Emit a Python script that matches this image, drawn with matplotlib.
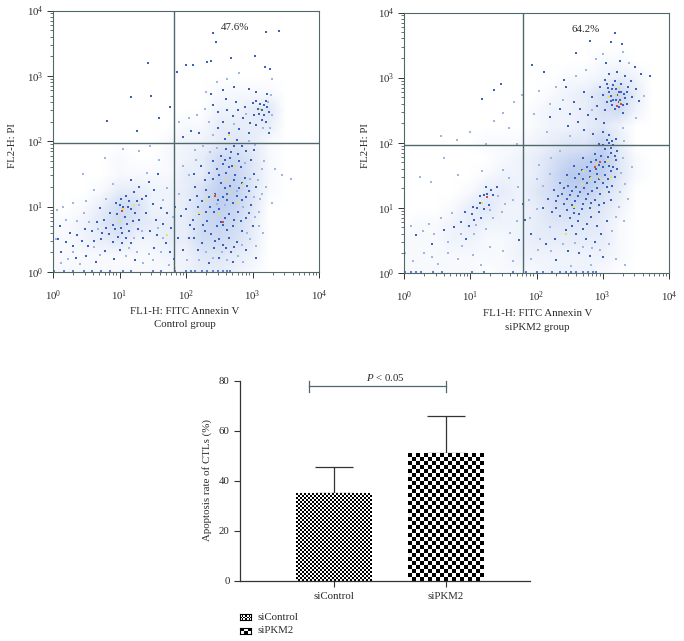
#!/usr/bin/env python3
# -*- coding: utf-8 -*-
# %% imports
import numpy as np
from matplotlib import pyplot as plt
from matplotlib.colors import LinearSegmentedColormap
from matplotlib.ticker import LogLocator, LogFormatterMathtext, NullFormatter

plt.rcParams['font.family'] = ['Liberation Serif', 'DejaVu Serif']
plt.rcParams['mathtext.fontset'] = 'custom'
plt.rcParams['mathtext.rm'] = 'Liberation Serif'
plt.rcParams['mathtext.it'] = 'Liberation Serif:italic'
plt.rcParams['mathtext.default'] = 'regular'

# %% data, flow panels: everything is in decades (log10)
grid_nodes = [0, .25, .5, .75, 1, 1.25, 1.5, 1.75, 2, 2.25, 2.5, 2.75, 3, 3.25, 3.5, 3.75, 4]

# haze of the points, one row per y node from the top (4) down to 0
ctrl_density = [
    [0, 0, 0, 0, 0, 0, 0, 0, 0, 0, 0, 0, 0, 0, 0, 0, 0],
    [0, 0, 0, 0, 0, 0, 0, 0, 0, 0, 0, 0, 0, 0, 0, 0, 0],
    [0, 0, 0, 0, 0, 0, 0, 0, 0, 0, 0, 0, 0, 0, 0, 0, 0],
    [0, 0, 0, 0, 0, 0, 0, 0, 0, 0, 0, 0, 0, 0, 0, 0, 0],
    [0, 0, 0, 0, 0, 0, 0, 0, 0, 0, 0, 0, 0, 0, 0, 0, 0],
    [0, 0, 0, 0, 0, 0, 0, 0, 0, 0, 1, 1, 1, 1, 0, 0, 0],
    [0, 0, 0, 0, 0, 0, 0, 0, 0, 0, 2, 2, 3, 4, 0, 0, 0],
    [0, 0, 0, 0, 0, 0, 0, 0, 1, 1, 3, 3, 3, 3, 0, 0, 0],
    [0, 0, 0, 0, 0, 0, 0, 1, 2, 2, 3, 4, 3, 1, 0, 0, 0],
    [0, 0, 0, 0, 1, 0, 0, 1, 2, 3, 6, 6, 4, 1, 0, 0, 0],
    [0, 0, 0, 0, 1, 1, 1, 1, 3, 3, 7, 7, 4, 1, 0, 0, 0],
    [0, 0, 0, 1, 3, 3, 2, 2, 3, 5, 8, 8, 4, 1, 0, 0, 0],
    [0, 0, 1, 3, 6, 5, 2, 2, 3, 6, 8, 7, 4, 0, 0, 0, 0],
    [1, 1, 2, 4, 6, 4, 3, 3, 3, 6, 7, 6, 3, 0, 0, 0, 0],
    [1, 1, 2, 3, 4, 2, 2, 3, 3, 6, 6, 5, 3, 0, 0, 0, 0],
    [1, 1, 1, 1, 1, 1, 1, 2, 2, 4, 4, 3, 2, 0, 0, 0, 0],
    [1, 1, 1, 1, 1, 1, 1, 1, 2, 3, 3, 2, 1, 0, 0, 0, 0],
]
pkm2_density = [
    [0, 0, 0, 0, 0, 0, 0, 0, 0, 0, 0, 0, 0, 0, 0, 0, 0],
    [0, 0, 0, 0, 0, 0, 0, 0, 0, 0, 0, 0, 0, 0, 0, 0, 0],
    [0, 0, 0, 0, 0, 0, 0, 0, 0, 0, 0, 0, 0, 0, 0, 0, 0],
    [0, 0, 0, 0, 0, 0, 0, 0, 0, 0, 0, 0, 1, 1, 0, 0, 0],
    [0, 0, 0, 0, 0, 0, 0, 0, 0, 0, 1, 1, 2, 3, 2, 0, 0],
    [0, 0, 0, 0, 0, 0, 0, 0, 0, 1, 2, 3, 5, 7, 3, 0, 0],
    [0, 0, 0, 0, 0, 0, 0, 0, 1, 2, 2, 3, 5, 6, 2, 0, 0],
    [0, 0, 0, 0, 0, 0, 0, 0, 1, 2, 2, 3, 4, 2, 0, 0, 0],
    [0, 0, 0, 0, 0, 1, 1, 1, 2, 3, 4, 4, 7, 3, 0, 0, 0],
    [0, 0, 0, 0, 0, 0, 1, 2, 3, 5, 7, 8, 9, 4, 1, 0, 0],
    [0, 0, 0, 0, 0, 1, 2, 2, 3, 6, 9, 9, 8, 4, 1, 0, 0],
    [0, 0, 0, 0, 1, 3, 3, 2, 4, 6, 8, 8, 5, 3, 0, 0, 0],
    [0, 0, 0, 1, 3, 4, 2, 2, 3, 5, 6, 5, 4, 2, 0, 0, 0],
    [0, 1, 1, 2, 3, 2, 2, 2, 3, 4, 4, 4, 3, 1, 0, 0, 0],
    [1, 1, 1, 2, 2, 1, 1, 2, 3, 3, 3, 3, 3, 1, 0, 0, 0],
    [1, 1, 1, 1, 1, 1, 1, 2, 2, 2, 2, 2, 2, 1, 0, 0, 0],
    [1, 1, 1, 1, 1, 0, 1, 1, 1, 2, 2, 2, 1, 0, 0, 0, 0],
]

ctrl_blue = [
    (2.40, 3.66), (2.45, 3.52), (3.21, 3.67), (3.40, 3.69), (3.04, 3.30), (2.68, 3.28), (2.31, 3.21), (2.37, 3.22),
    (1.43, 3.20), (1.86, 3.06), (2.00, 3.17), (2.11, 3.16), (3.26, 3.11), (3.19, 3.14), (1.17, 2.67), (1.48, 2.69),
    (0.81, 2.31), (1.59, 2.36), (1.76, 2.52), (1.26, 2.15), (2.55, 2.78), (2.38, 2.72), (2.72, 2.83), (2.95, 2.80),
    (3.06, 2.76), (3.22, 2.73), (2.41, 2.55), (2.62, 2.48), (2.75, 2.60), (2.88, 2.52), (3.00, 2.58), (3.08, 2.50),
    (3.12, 2.57), (3.17, 2.56), (3.22, 2.52), (3.10, 2.42), (3.18, 2.40), (3.25, 2.44), (3.14, 2.33), (3.20, 2.30),
    (3.05, 2.25), (2.85, 2.35), (2.70, 2.38), (2.55, 2.30), (2.48, 2.20), (2.64, 2.12), (2.80, 2.18), (2.95, 2.12),
    (3.25, 2.12), (2.20, 2.12), (2.08, 2.16), (1.95, 2.07), (2.58, 2.04), (2.72, 1.92), (2.60, 1.88), (2.52, 1.78),
    (2.66, 1.75), (2.78, 1.80), (2.90, 1.85), (2.98, 1.72), (2.55, 1.65), (2.69, 1.62), (2.82, 1.60), (2.46, 1.58),
    (2.60, 1.52), (2.74, 1.48), (2.88, 1.44), (3.02, 1.50), (2.40, 1.42), (2.52, 1.36), (2.66, 1.32), (2.80, 1.28),
    (2.94, 1.24), (2.30, 1.26), (2.44, 1.20), (2.56, 1.15), (2.62, 1.10), (2.70, 1.05), (2.84, 1.10), (2.98, 1.02),
    (2.24, 1.08), (2.36, 1.00), (2.50, 0.96), (2.64, 0.88), (2.78, 0.92), (2.90, 0.82), (2.20, 0.88), (2.32, 0.78),
    (2.52, 0.76), (2.56, 0.72), (2.70, 0.70), (2.84, 0.62), (3.00, 0.70), (2.12, 0.66), (2.28, 0.62), (2.38, 0.58),
    (2.50, 0.50), (2.64, 0.52), (2.76, 0.46), (2.60, 0.36), (2.68, 0.30), (2.42, 0.36), (2.90, 0.34), (2.24, 0.44),
    (2.50, 0.22), (2.70, 0.16), (2.34, 0.14), (3.05, 0.22), (1.84, 1.00), (1.92, 0.86), (1.78, 0.68), (1.88, 0.52),
    (1.70, 0.44), (1.96, 0.34), (1.82, 0.20), (1.66, 0.74), (1.55, 0.80), (1.46, 0.62), (1.40, 0.90), (1.30, 0.80),
    (1.10, 1.16), (1.22, 1.22), (1.06, 0.99), (1.00, 1.02), (1.13, 1.00), (1.18, 0.96), (0.96, 0.88), (1.08, 0.84),
    (1.20, 0.78), (0.90, 0.72), (1.02, 0.68), (0.93, 0.66), (1.14, 0.62), (0.84, 0.58), (0.98, 0.54), (1.10, 0.52),
    (1.04, 0.44), (0.90, 0.46), (0.72, 0.50), (0.76, 0.80), (0.70, 0.98), (0.58, 0.62), (0.44, 0.48), (0.30, 0.40),
    (0.12, 0.30), (0.26, 0.60), (0.10, 0.70), (0.50, 0.24), (0.78, 0.32), (1.18, 1.40), (1.30, 1.30), (1.40, 1.16),
    (1.52, 1.26), (1.58, 1.50), (1.44, 1.38), (2.12, 1.50), (2.22, 1.62), (2.14, 1.30), (2.06, 1.10), (2.00, 0.96),
    # second pass over the dense clouds
    (2.58, 1.72), (2.64, 1.60), (2.50, 1.48), (2.72, 1.40), (2.58, 1.28), (2.84, 1.36), (2.62, 1.20), (2.48, 1.10),
    (2.76, 1.16), (2.90, 1.14), (2.34, 1.14), (2.42, 0.92), (2.58, 0.82), (2.72, 0.80), (2.46, 0.70), (2.62, 0.64),
    (2.30, 0.92), (2.18, 1.00), (2.10, 0.80), (2.26, 0.72), (2.44, 0.48), (2.56, 0.42), (2.72, 0.38), (2.82, 0.78),
    (2.94, 0.90), (2.92, 1.32), (3.06, 1.30), (2.80, 1.70), (2.68, 1.84), (2.84, 1.92), (2.76, 2.02), (3.02, 1.86),
    (2.40, 1.70), (2.34, 1.52), (2.28, 1.40), (2.16, 1.16), (2.06, 0.72), (2.12, 0.52), (2.18, 0.34), (2.04, 0.52),
    (3.14, 2.48), (3.06, 2.62), (3.20, 2.62), (3.02, 2.40), (2.96, 2.28), (2.78, 2.48), (2.60, 2.64), (2.48, 2.44),
    (1.02, 1.12), (0.94, 1.06), (1.14, 1.08), (1.26, 1.08), (1.34, 1.12), (1.24, 0.90), (1.12, 0.74), (1.28, 0.66),
    (1.04, 0.60), (0.80, 0.68), (0.86, 0.90), (0.66, 0.76), (0.74, 0.60), (0.62, 0.48), (1.00, 0.34), (1.18, 0.44),
    (1.36, 0.52), (1.56, 0.56), (1.52, 0.36), (1.72, 0.90), (1.62, 0.98), (1.50, 1.04), (1.76, 0.30), (0.20, 0.46),
    (0.36, 0.56), (0.48, 0.66), (0.52, 0.40), (0.08, 0.50), (0.34, 0.22), (0.64, 0.16), (0.92, 0.20), (1.24, 0.18),
]
ctrl_pale = [
    (2.80, 3.05), (2.62, 2.95), (2.46, 2.90), (2.30, 2.75), (2.16, 2.40), (1.90, 2.30), (2.05, 2.35), (3.30, 2.95),
    (3.28, 2.70), (3.29, 2.40), (3.27, 2.20), (0.78, 1.75), (0.45, 1.50), (1.05, 1.88), (1.30, 1.85), (1.46, 1.92),
    (1.60, 1.72), (1.42, 1.52), (0.90, 1.35), (0.62, 1.25), (0.30, 1.05), (0.06, 0.95), (0.15, 1.00), (0.46, 0.90),
    (0.36, 0.78), (0.62, 0.38), (0.22, 0.20), (0.04, 0.50), (0.00, 0.60), (0.40, 0.12), (1.10, 0.24), (1.26, 0.30),
    (1.50, 0.18), (1.62, 0.30), (2.15, 1.72), (1.96, 1.62), (2.05, 1.48), (1.90, 1.20), (3.15, 1.58), (3.20, 1.30),
    (3.12, 1.12), (3.10, 0.92), (3.18, 1.70), (3.34, 1.58), (3.45, 1.48), (3.58, 1.42), (3.30, 1.05), (3.16, 0.60),
    (3.06, 0.40), (2.30, 0.30), (2.02, 0.18), (2.46, 1.90), (2.40, 2.10), (2.94, 2.00), (3.04, 1.94), (1.66, 1.10),
    (1.72, 1.28), (1.30, 1.02), (1.34, 0.62), (1.22, 0.52), (0.80, 1.12), (0.54, 0.76), (0.68, 0.66), (1.14, 0.36),
    (1.36, 0.14), (1.74, 0.10), (2.92, 0.60), (2.78, 0.24), (2.58, 1.02), (2.88, 1.66), (2.76, 1.24), (2.46, 1.04),
    (2.96, 1.42), (3.08, 1.40), (3.14, 1.20), (3.02, 1.14), (2.86, 1.00), (3.04, 0.84), (3.10, 0.70), (2.96, 0.50),
    (2.84, 0.42), (2.54, 0.30), (2.62, 0.18), (2.86, 0.16), (2.20, 0.18), (2.40, 0.22), (2.14, 1.86), (2.26, 1.92),
    (2.36, 1.84), (2.90, 2.42), (2.72, 2.26), (2.34, 2.30), (2.28, 2.50), (3.24, 2.60), (3.16, 2.20), (0.50, 1.08),
    (0.20, 0.80), (0.12, 0.14), (0.30, 0.30), (0.70, 0.26), (1.44, 0.28), (1.58, 0.68), (1.66, 0.52), (1.80, 0.84),
]
ctrl_warm = [
    (1.06, 0.96), (1.22, 1.02), (1.00, 0.78), (2.42, 1.18), (2.66, 1.22), (2.60, 1.40), (2.74, 1.62), (2.50, 0.88),
    (2.30, 1.10), (2.78, 1.06), (2.86, 1.34), (3.12, 2.50), (2.64, 2.10), (1.72, 0.56), (2.20, 0.90), (1.84, 0.06),
]
ctrl_red = [(1.04, 0.94), (2.44, 1.16), (2.56, 0.76)]
# the events stacked on the bottom axis
ctrl_floor_x = [0.02, 0.16, 0.30, 0.46, 0.58, 0.72, 0.86, 1.06, 1.18, 1.50, 1.62, 1.84, 2.00, 2.08, 2.14, 2.24, 2.32, 2.40, 2.48, 2.56, 2.62, 2.66]
pkm2_floor_x = [0.02, 0.10, 0.18, 0.26, 0.44, 0.58, 1.02, 1.20, 1.64, 1.84, 2.00, 2.10, 2.24, 2.36, 2.44, 2.52, 2.60, 2.70, 2.78, 2.86, 2.90]

pkm2_blue = [
    (3.19, 3.68), (2.80, 3.57), (2.59, 3.38), (3.29, 3.52), (3.12, 3.54), (1.93, 3.20), (2.41, 2.97), (2.11, 3.08),
    (1.46, 2.90), (1.36, 2.81), (1.18, 2.67), (3.05, 3.22), (3.26, 3.26), (3.48, 3.16), (3.58, 3.06), (3.72, 3.02),
    (3.10, 3.05), (3.22, 3.08), (3.34, 3.02), (3.42, 2.95), (3.04, 2.96), (3.18, 2.95), (3.28, 2.90), (3.38, 2.86),
    (3.50, 2.82), (2.96, 2.86), (3.08, 2.84), (3.20, 2.82), (3.24, 2.78), (3.32, 2.75), (3.44, 2.70), (3.54, 2.64),
    (3.00, 2.74), (3.12, 2.72), (3.22, 2.73), (3.16, 2.66), (3.26, 2.65), (3.36, 2.60), (3.06, 2.62), (3.14, 2.58),
    (3.24, 2.55), (3.18, 2.52), (2.92, 2.56), (3.04, 2.50), (3.30, 2.46), (2.84, 2.70), (2.72, 2.78), (2.56, 2.62),
    (2.44, 2.86), (2.66, 2.52), (2.50, 2.44), (2.78, 2.42), (2.90, 2.36), (3.02, 2.30), (2.62, 2.32), (2.48, 2.25),
    (2.36, 2.52), (2.20, 2.40), (2.72, 2.20), (2.86, 2.14), (3.00, 2.16), (3.10, 2.12), (3.06, 2.04), (3.14, 2.02),
    (3.20, 2.06), (2.94, 1.98), (3.04, 1.90), (3.12, 1.92), (3.22, 1.88), (2.88, 1.82), (2.98, 1.80), (3.08, 1.78),
    (3.20, 1.74), (2.70, 1.76), (2.82, 1.70), (2.94, 1.66), (3.10, 1.64), (3.22, 1.60), (2.56, 1.64), (2.68, 1.58),
    (2.80, 1.56), (2.92, 1.52), (3.04, 1.50), (3.18, 1.48), (2.46, 1.50), (2.58, 1.46), (2.70, 1.44), (2.81, 1.47),
    (2.88, 1.40), (3.00, 1.38), (3.14, 1.34), (2.36, 1.38), (2.48, 1.34), (2.60, 1.32), (2.72, 1.30), (2.84, 1.26),
    (2.96, 1.22), (3.10, 1.24), (2.26, 1.28), (2.38, 1.22), (2.50, 1.20), (2.62, 1.18), (2.74, 1.14), (2.88, 1.12),
    (3.02, 1.08), (2.18, 1.14), (2.30, 1.10), (2.42, 1.06), (2.54, 1.04), (2.56, 1.00), (2.68, 0.98), (2.80, 1.00),
    (2.94, 0.94), (2.10, 1.00), (2.24, 0.94), (2.36, 0.88), (2.50, 0.84), (2.62, 0.80), (2.76, 0.76), (2.92, 0.72),
    (3.06, 0.80), (2.44, 0.66), (2.60, 0.60), (2.74, 0.52), (2.88, 0.48), (2.28, 0.52), (2.14, 0.44), (2.48, 0.34),
    (2.64, 0.30), (2.80, 0.26), (3.00, 0.24), (2.30, 0.20), (1.92, 0.60), (1.80, 1.06), (1.82, 0.82), (1.74, 0.50),
    (1.20, 1.20), (1.26, 1.22), (1.32, 1.28), (1.40, 1.32), (1.14, 1.08), (1.10, 1.00), (1.20, 0.98), (1.02, 0.90),
    (1.06, 0.82), (0.98, 0.72), (0.86, 0.78), (0.60, 0.66), (0.94, 0.52), (0.42, 0.44), (0.18, 0.58),
    # second pass over the dense clouds
    (2.76, 1.62), (2.64, 1.52), (2.76, 1.38), (2.90, 1.60), (3.00, 1.62), (3.12, 1.56), (2.94, 1.44), (3.08, 1.44),
    (2.66, 1.24), (2.78, 1.22), (2.92, 1.30), (3.06, 1.32), (2.54, 1.26), (2.42, 1.30), (2.32, 1.18), (2.46, 1.14),
    (2.58, 1.10), (2.70, 1.06), (2.82, 1.08), (2.94, 1.04), (2.64, 0.90), (2.46, 0.96), (2.30, 1.00), (2.56, 0.92),
    (2.82, 0.86), (2.70, 0.68), (2.54, 0.72), (2.98, 0.60), (3.12, 1.12), (3.16, 1.62), (3.18, 1.80), (3.12, 1.84),
    (3.04, 1.70), (3.16, 1.96), (3.10, 2.00), (3.00, 1.96), (2.90, 1.74), (3.14, 2.82), (3.20, 2.66), (3.28, 2.78),
    (3.10, 2.78), (3.30, 2.58), (3.12, 2.64), (3.24, 2.62), (3.34, 2.68), (3.16, 2.88), (3.36, 2.78), (3.06, 2.90),
    (1.24, 1.32), (1.34, 1.20), (1.14, 1.18), (1.04, 1.02), (0.92, 0.94), (1.28, 1.04), (0.76, 0.70), (1.16, 0.84),
]
pkm2_pale = [
    (2.90, 3.28), (2.74, 3.12), (2.60, 3.02), (2.30, 2.86), (2.04, 2.80), (1.78, 2.74), (1.66, 2.62), (1.50, 2.46),
    (1.36, 2.34), (1.58, 2.22), (1.00, 2.16), (0.56, 2.10), (0.80, 2.04), (1.24, 1.98), (1.70, 1.98), (0.60, 1.76),
    (0.24, 1.48), (0.40, 1.40), (0.82, 1.50), (1.18, 1.56), (1.50, 1.58), (1.58, 1.46), (1.42, 1.18), (1.64, 1.12),
    (1.48, 0.94), (1.70, 0.80), (1.60, 0.62), (1.34, 0.84), (1.24, 0.68), (1.06, 0.60), (0.88, 0.42), (0.72, 0.92),
    (0.56, 0.84), (0.38, 0.76), (0.46, 0.60), (0.28, 0.64), (0.10, 0.72), (0.02, 0.30), (0.14, 0.18), (0.42, 0.24),
    (0.66, 0.30), (0.82, 0.22), (1.04, 0.28), (1.16, 0.12), (1.30, 0.40), (1.50, 0.34), (1.64, 0.18), (1.92, 0.22),
    (2.02, 0.36), (2.20, 0.70), (3.14, 0.64), (3.32, 0.80), (3.38, 1.14), (3.34, 1.36), (3.44, 1.62), (3.50, 2.38),
    (3.62, 2.72), (2.50, 2.10), (2.36, 1.88), (2.22, 1.76), (2.04, 1.66), (2.16, 2.16), (1.96, 2.44), (3.40, 3.22),
    (3.00, 3.36), (3.30, 3.40), (2.52, 0.10), (2.82, 0.12), (3.20, 0.22), (3.34, 0.12),
    (2.40, 0.44), (2.58, 0.46), (2.70, 0.40), (2.84, 0.38), (2.96, 0.36), (3.10, 0.44), (2.22, 0.34), (2.06, 0.52),
    (1.90, 0.84), (2.00, 0.98), (1.88, 1.12), (2.10, 1.34), (2.00, 1.44), (2.20, 1.52), (3.26, 1.24), (3.24, 1.02),
    (3.20, 0.86), (3.28, 1.54), (3.30, 1.76), (3.32, 2.02), (3.30, 2.22), (2.84, 2.50), (2.40, 2.66), (2.20, 2.60),
    (1.72, 1.32), (1.52, 1.06), (1.30, 0.96), (1.08, 0.74), (0.86, 0.60), (0.66, 0.48), (0.30, 0.30), (0.52, 0.14),
]
pkm2_warm = [
    (3.20, 2.74), (3.26, 2.62), (3.10, 2.70), (2.92, 1.68), (3.08, 1.72), (2.82, 1.46), (2.96, 1.46), (2.68, 1.36),
    (3.12, 1.48), (2.56, 1.02), (3.24, 2.84), (2.70, 1.56), (1.18, 1.08), (2.44, 0.60),
]
pkm2_red = [(3.22, 2.56), (3.28, 2.60), (2.96, 1.70), (2.88, 1.62), (1.26, 1.16)]

# %% data, bar panel
categories = ["siControl", "siPKM2"]
apoptosis_mean = [35.2, 51.2]
apoptosis_top = [45.8, 66.0]


# %% figure helpers
W, H = 684, 641
fig = plt.figure(figsize=(W / 100, H / 100), dpi=100)
GREY = "#4f686c"
TEXT = "#2a2a2a"
FS = 7.85


def box(left, top, right, bottom):
    return [left / W, 1 - bottom / H, (right - left) / W, (bottom - top) / H]


def ftext(x, y, s, **kw):
    kw.setdefault("fontsize", FS)
    kw.setdefault("color", TEXT)
    kw.setdefault("ha", "center")
    kw.setdefault("va", "center")
    fig.text(x / W, 1 - y / H, s, **kw)


haze = LinearSegmentedColormap.from_list("haze", ["#ffffff", "#b0c4ec"])


def flow_panel(rect, density, blue, pale, warm, red, floor_x, gate_x, gate_y, pct):
    ax = fig.add_axes(box(*rect))
    ax.set_xscale("log")
    ax.set_yscale("log")
    nodes = 10.0 ** np.array(grid_nodes)
    ax.pcolormesh(nodes, nodes, np.flipud(np.array(density)), shading="gouraud", cmap=haze, vmin=0, vmax=10, zorder=0)
    for pts, col in ((pale, "#9fb6e4"), (blue, "#3a62bd"), (warm, "#e8e25a"), (red, "#d8484a")):
        xy = 10.0 ** np.array(pts)
        ax.scatter(xy[:, 0], xy[:, 1], s=1.8, c=col, marker="s", linewidths=0, zorder=2)
    ax.scatter(10.0 ** np.array(floor_x), [1.05] * len(floor_x), s=1.8, c="#5f80cc", marker="s", linewidths=0, zorder=2)
    ax.axvline(gate_x, color=GREY, lw=1.0, zorder=3)
    ax.axhline(gate_y, color=GREY, lw=1.0, zorder=3)
    ax.set_xlim(1, 1e4)
    ax.set_ylim(1, 1e4)
    for spine in ax.spines.values():
        spine.set_color(GREY)
        spine.set_linewidth(0.8)
    ax.xaxis.set_major_locator(LogLocator(base=10, numticks=6))
    ax.yaxis.set_major_locator(LogLocator(base=10, numticks=6))
    ax.xaxis.set_minor_locator(LogLocator(base=10, subs=np.arange(2, 10), numticks=6))
    ax.yaxis.set_minor_locator(LogLocator(base=10, subs=np.arange(2, 10), numticks=6))
    ax.xaxis.set_minor_formatter(NullFormatter())
    ax.yaxis.set_minor_formatter(NullFormatter())
    ax.xaxis.set_major_formatter(LogFormatterMathtext())
    ax.yaxis.set_major_formatter(LogFormatterMathtext())
    ax.tick_params(axis="both", which="major", length=4, width=0.7, color="#333333", labelsize=FS, labelcolor=TEXT)
    ax.tick_params(axis="both", which="minor", length=2.2, width=0.5, color="#333333")
    ax.tick_params(axis="x", which="major", pad=8)
    ax.tick_params(axis="y", which="major", pad=3)
    ax.text(0.685, 0.935, pct, transform=ax.transAxes, fontsize=FS, color=TEXT, ha="center", va="center")
    return ax


# %% flow panels
flow_panel((53, 10.5, 319, 272), ctrl_density, ctrl_blue, ctrl_pale, ctrl_warm, ctrl_red, ctrl_floor_x, 65, 93, "47.6%")
ftext(13, 146, "FL2-H: PI", rotation=90)
ftext(185, 311, "FL1-H: FITC Annexin V")
ftext(184.5, 325, "Control group")

flow_panel((404, 12.5, 669, 273), pkm2_density, pkm2_blue, pkm2_pale, pkm2_warm, pkm2_red, pkm2_floor_x, 63, 91, "64.2%")
ftext(365.5, 146, "FL2-H: PI", rotation=90)
ftext(538, 313, "FL1-H: FITC Annexin V")
ftext(537.5, 327, "siPKM2 group")

# %% bar panel
ax2 = fig.add_axes(box(239.5, 381, 530, 581))
ax2.set_xlim(0, 290.5)
ax2.set_ylim(0, 80)
positions = [94.5, 206.5]
bars = ax2.bar(positions, apoptosis_mean, width=76, facecolor="none", edgecolor="none", zorder=3)
ax2.errorbar(positions, apoptosis_mean, yerr=[[0, 0], np.array(apoptosis_top) - np.array(apoptosis_mean)],
             fmt="none", ecolor="#333333", elinewidth=0.9, capsize=13.5, capthick=0.9, zorder=2)


def checker(bar, size_px):
    # checkerboard fill, one image over the bar, cells on whole pixels
    x0, w, h = bar.get_x(), bar.get_width(), bar.get_height()
    ny = max(int(round(h * 2.5 / size_px)), 1)
    nx = max(int(round(w / size_px)), 1)
    board = np.indices((ny, nx)).sum(axis=0) % 2
    ax2.imshow(board, cmap="gray", extent=(x0, x0 + w, 0, h), aspect="auto",
               interpolation="nearest", zorder=2.5)


checker(bars[0], 2.0)
checker(bars[1], 4.0)
ax2.set_xlim(0, 290.5)
ax2.set_ylim(0, 80)

ax2.spines["top"].set_visible(False)
ax2.spines["right"].set_visible(False)
ax2.spines["left"].set_linewidth(0.9)
ax2.spines["bottom"].set_linewidth(0.9)
ax2.spines["left"].set_color("#333333")
ax2.spines["bottom"].set_color("#333333")
ax2.set_yticks([0, 20, 40, 60, 80])
ax2.set_xticks(positions)
ax2.set_xticklabels(categories)
ax2.tick_params(axis="both", length=4, width=0.8, color="#333333", labelsize=FS, labelcolor=TEXT)
ax2.tick_params(axis="x", pad=4)
ax2.tick_params(axis="y", pad=3)

# significance bracket
ax2.plot([69.2, 206.8], [78, 78], color=GREY, lw=0.9, clip_on=False)
ax2.plot([69.2, 69.2], [75.8, 80], color=GREY, lw=0.9, clip_on=False)
ax2.plot([206.8, 206.8], [75.8, 80], color=GREY, lw=0.9, clip_on=False)
ftext(385, 377.5, "$\\mathit{P}$ < 0.05")
ftext(207.5, 480, "Apoptosis rate of CTLs (%)", rotation=90)

# legend
for name, y, size in ((categories[0], 617, 1.5), (categories[1], 630.5, 3.0)):
    lax = fig.add_axes(box(239.5, y - 3, 251, y + 3))
    board = np.indices((int(6 / size), int(11.5 / size))).sum(axis=0) % 2
    lax.imshow(board, cmap="gray", aspect="auto", interpolation="nearest")
    lax.set_xticks([])
    lax.set_yticks([])
    for spine in lax.spines.values():
        spine.set_linewidth(0.8)
    ftext(257.5, y, name, ha="left")

plt.savefig("out.png", dpi=100)
